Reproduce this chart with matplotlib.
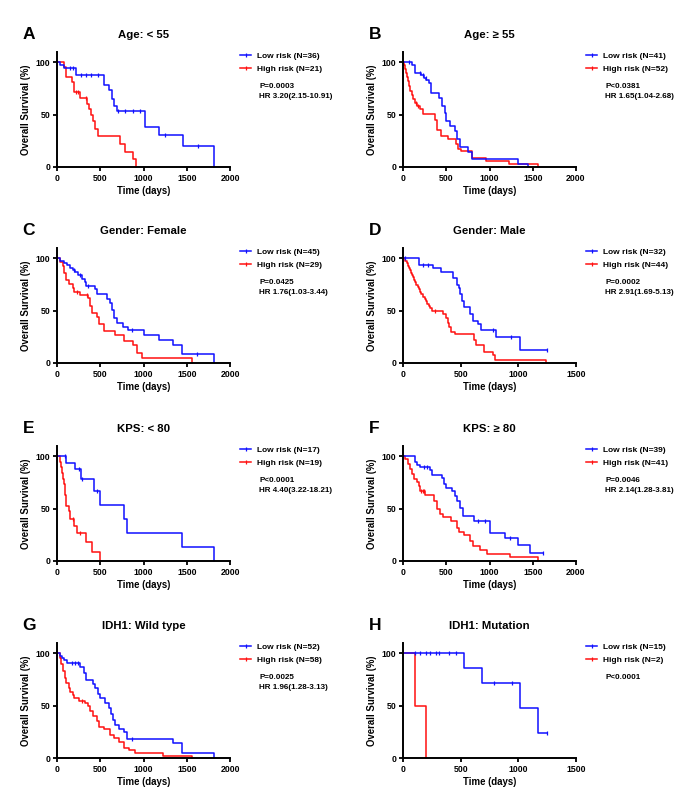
import numpy as np
import matplotlib
matplotlib.use("Agg")
import matplotlib.pyplot as plt
from matplotlib.lines import Line2D

plt.rcParams['font.family'] = ['Liberation Sans', 'DejaVu Sans']
plt.rcParams['font.weight'] = 'bold'
plt.rcParams['axes.labelweight'] = 'bold'
plt.rcParams['axes.titleweight'] = 'bold'

BLUE = '#1010ff'
RED = '#ff1010'

# ---- data (days, % surviving after each step) ----
# A  Age < 55
A_low_t = [0, 39, 85, 220, 542, 596, 634, 654, 696, 1013, 1176, 1458, 1814]
A_low_s = [100, 97.2, 94.4, 88.3, 78.3, 73.5, 65.5, 58.1, 53.4, 38.2, 30.5, 20.3, 0]
A_low_c = [150, 190, 280, 335, 395, 470, 705, 790, 880, 955, 1245, 1625]
A_high_t = [0, 80, 105, 174, 193, 271, 348, 368, 395, 414, 441, 472, 723, 781, 878, 917]
A_high_s = [100, 95.2, 85.7, 81, 71.4, 66.2, 60.7, 55.1, 49.6, 44.1, 36.8, 29.4, 22.1, 14.7, 7.4, 0]
A_high_c = [220, 248, 330]

# B  Age >= 55
B_low_t = [0, 108, 135, 212, 238, 269, 300, 319, 415, 446, 481, 500, 538, 596, 623, 662, 754, 796, 1327, 1442]
B_low_s = [100, 97.5, 90.2, 87.8, 85.4, 82.9, 80.5, 70.7, 65.9, 58.5, 51.2, 43.9, 39, 34.1, 26.8, 19.5, 14.6, 7.3, 2.4, 0]
B_low_c = [69, 192, 231, 262]
B_high_t = [0, 12, 27, 38, 50, 62, 73, 85, 100, 115, 135, 165, 192, 231, 365, 392, 442, 519, 615, 635, 673, 800, 954, 1223, 1558]
B_high_s = [100, 98, 94, 90, 86, 82, 77, 73, 69, 65, 61, 58, 55, 51, 45, 35, 30, 26.5, 22, 17, 15, 9, 6, 3, 0]
B_high_c = [154, 173]

# C  Gender: Female
C_low_t = [0, 38, 77, 115, 154, 185, 212, 238, 288, 319, 338, 442, 462, 575, 615, 635, 655, 690, 760, 825, 1000, 1175, 1340, 1445, 1815]
C_low_s = [100, 97.8, 95.6, 93.3, 91.1, 88.9, 86.7, 84.4, 80, 77.8, 73.3, 70.5, 65.7, 61.6, 57.8, 50.8, 42.9, 38.7, 34.9, 31.1, 27, 22, 17, 9, 0]
C_low_c = [192, 270, 354, 865, 1615]
C_high_t = [0, 38, 69, 85, 108, 135, 185, 200, 269, 354, 377, 404, 462, 481, 538, 673, 777, 877, 923, 981, 1558]
C_high_s = [100, 97, 93, 86, 79, 75.8, 72, 68, 65, 62, 55, 48, 44, 37, 31, 27, 21, 17, 10, 5, 0]
C_high_c = [231, 346]

# D  Gender: Male
D_low_t = [0, 143, 263, 326, 434, 469, 483, 497, 511, 526, 583, 611, 649, 677, 806, 1011, 1245]
D_low_s = [100, 93.8, 90.6, 87.5, 81.3, 75, 71.9, 65.6, 59.4, 53.1, 46.9, 40.6, 37.5, 31.3, 25, 12.5, 12.5]
D_low_c = [20, 177, 220, 777, 940, 1245]
D_high_t = [0, 20, 34, 46, 54, 63, 71, 80, 89, 97, 106, 114, 126, 137, 149, 160, 171, 189, 200, 211, 223, 234,
            249, 343, 371, 386, 400, 414, 449, 614, 629, 706, 777, 800, 1237]
D_high_s = [100, 97.7, 95.5, 93.2, 90.9, 88.6, 86.4, 84.1, 81.8, 79.5, 77.3, 75, 72.7, 70.5, 68.2, 65.9, 63.6, 61.4,
            59.1, 56.8, 54.5, 52.3, 50, 47, 43, 38.6, 34, 30, 28, 22, 17, 11, 8, 3, 0]
D_high_c = [277]

# E  KPS < 80
E_low_t = [0, 108, 212, 281, 423, 500, 777, 815, 1442, 1819]
E_low_s = [100, 94.1, 88.2, 78.4, 67.2, 53.8, 40.3, 26.9, 13.4, 0]
E_low_c = [96, 250, 288, 462]
E_high_t = [0, 38, 50, 62, 69, 77, 96, 108, 142, 154, 200, 231, 338, 404, 492]
E_high_s = [100, 94.7, 89.5, 84.2, 78.9, 73.7, 63.2, 52.6, 47.4, 40.2, 33.5, 26.8, 17.9, 8.9, 0]
E_high_c = [185, 269]

# F  KPS >= 80
F_low_t = [0, 142, 161, 192, 314, 333, 448, 475, 498, 563, 602, 628, 659, 690, 697, 820, 1011, 1176, 1330, 1464, 1620]
F_low_s = [100, 94.9, 92.3, 89.7, 87, 82, 79, 74, 70, 67, 62, 57, 51, 48, 43, 38, 27, 22, 15, 7.5, 7.5]
F_low_c = [238, 276, 870, 946, 1241, 1617]
F_high_t = [0, 27, 54, 84, 103, 130, 161, 180, 192, 257, 364, 391, 429, 467, 552, 628, 651, 705, 774, 805, 889, 966, 1234, 1559]
F_high_s = [100, 97.6, 92.7, 87.8, 82.9, 78, 75.6, 72, 67, 63, 57, 50, 45, 42, 38, 32, 28, 25, 19, 14, 11, 7, 3.5, 0]
F_high_c = [207, 230, 245]

# G  IDH1: Wild type
G_low_t = [0, 38, 58, 77, 115, 269, 308, 338, 415, 442, 469, 500, 558, 596, 623, 646, 673, 712, 769, 808, 1338, 1442, 1819]
G_low_s = [100, 98, 96, 94, 91, 87, 81, 75, 71, 67, 61, 57, 53, 48, 42, 36, 32, 28, 25, 18, 14, 5, 0]
G_low_c = [173, 212, 238, 865]
G_high_t = [0, 31, 50, 69, 88, 108, 135, 154, 185, 200, 250, 327, 354, 385, 415, 462, 481, 538, 615, 654, 712, 777, 827, 904, 1231, 1558]
G_high_s = [100, 96, 90, 83, 77, 72, 67, 63, 60, 57, 55, 53, 50, 45, 40, 35, 30, 28, 22, 19, 15, 10, 7.5, 5, 2, 0]
G_high_c = [288]

# H  IDH1: Mutation
H_low_t = [0, 533, 686, 1017, 1173, 1245]
H_low_s = [100, 85.7, 71.4, 47.6, 23.8, 23.8]
H_low_c = [101, 150, 196, 236, 282, 311, 398, 461, 787, 945, 1245]
H_high_t = [0, 104, 202]
H_high_s = [100, 50, 0]
H_high_c = []

panels = [
    ('A', 'Age: < 55', 2000, (A_low_t, A_low_s, A_low_c), (A_high_t, A_high_s, A_high_c), 36, 21, 'P=0.0003', 'HR 3.20(2.15-10.91)'),
    ('B', 'Age: \u2265 55', 2000, (B_low_t, B_low_s, B_low_c), (B_high_t, B_high_s, B_high_c), 41, 52, 'P<0.0381', 'HR 1.65(1.04-2.68)'),
    ('C', 'Gender: Female', 2000, (C_low_t, C_low_s, C_low_c), (C_high_t, C_high_s, C_high_c), 45, 29, 'P=0.0425', 'HR 1.76(1.03-3.44)'),
    ('D', 'Gender: Male', 1500, (D_low_t, D_low_s, D_low_c), (D_high_t, D_high_s, D_high_c), 32, 44, 'P=0.0002', 'HR 2.91(1.69-5.13)'),
    ('E', 'KPS: < 80', 2000, (E_low_t, E_low_s, E_low_c), (E_high_t, E_high_s, E_high_c), 17, 19, 'P<0.0001', 'HR 4.40(3.22-18.21)'),
    ('F', 'KPS: \u2265 80', 2000, (F_low_t, F_low_s, F_low_c), (F_high_t, F_high_s, F_high_c), 39, 41, 'P=0.0046', 'HR 2.14(1.28-3.81)'),
    ('G', 'IDH1: Wild type', 2000, (G_low_t, G_low_s, G_low_c), (G_high_t, G_high_s, G_high_c), 52, 58, 'P=0.0025', 'HR 1.96(1.28-3.13)'),
    ('H', 'IDH1: Mutation', 1500, (H_low_t, H_low_s, H_low_c), (H_high_t, H_high_s, H_high_c), 15, 2, 'P<0.0001', None),
]

W, H = 700, 807
fig = plt.figure(figsize=(W / 100, H / 100), dpi=100)

col_left = [57, 403]
ax_w = 173
row_bottom = [167, 363, 561, 758]
ax_h = 115


def step_at(t, s, c):
    t = np.asarray(t)
    s = np.asarray(s)
    idx = np.searchsorted(t, c, side='right') - 1
    return s[idx]


def draw_curve(ax, t, s, c, color):
    ax.plot(t, s, drawstyle='steps-post', color=color, lw=1.1, clip_on=False)
    if len(c):
        ax.plot(c, step_at(t, s, c), ls='none', marker='|', ms=3.2, mew=0.9,
                color=color, clip_on=False)


for i, (letter, title, xmax, low, high, n_low, n_high, ptxt, hrtxt) in enumerate(panels):
    r, k = divmod(i, 2)
    left = col_left[k]
    bottom = row_bottom[r]
    ax = fig.add_axes([left / W, 1 - bottom / H, ax_w / W, ax_h / H])

    draw_curve(ax, *high, RED)
    draw_curve(ax, *low, BLUE)

    ax.set_xlim(0, xmax)
    ax.set_ylim(0, 110)
    ax.set_xticks(np.arange(0, xmax + 1, 500))
    ax.set_yticks([0, 50, 100])
    for side in ('top', 'right'):
        ax.spines[side].set_visible(False)
    for side in ('left', 'bottom'):
        ax.spines[side].set_linewidth(1.4)
    ax.tick_params(labelsize=6.3, width=1.3, length=3, pad=2)
    ax.set_xlabel('Time (days)', fontsize=6.9, labelpad=2)
    ax.set_ylabel('Overall Survival (%)', fontsize=6.9, labelpad=3)

    ax.text(0.5, 1.12, title, transform=ax.transAxes, ha='center',
            va='baseline', fontsize=8.2)
    ax.text(-0.20, 1.11, letter, transform=ax.transAxes, ha='left',
            va='baseline', fontsize=12.5)

    handles = [Line2D([], [], color=BLUE, lw=1.1, marker='|', ms=3, mew=0.9),
               Line2D([], [], color=RED, lw=1.1, marker='|', ms=3, mew=0.9)]
    ax.legend(handles, [f'Low risk (N={n_low})', f'High risk (N={n_high})'],
              loc='upper left', bbox_to_anchor=(1.06, 1.0), frameon=False,
              fontsize=6, numpoints=1, handlelength=1.3, handletextpad=0.7,
              labelspacing=0.6, borderpad=0, borderaxespad=0)
    ax.text(1.17, 0.70, ptxt, transform=ax.transAxes, ha='left', va='center',
            fontsize=5.8)
    if hrtxt:
        ax.text(1.17, 0.61, hrtxt, transform=ax.transAxes, ha='left',
                va='center', fontsize=5.8)

fig.savefig('out.png', dpi=100)
